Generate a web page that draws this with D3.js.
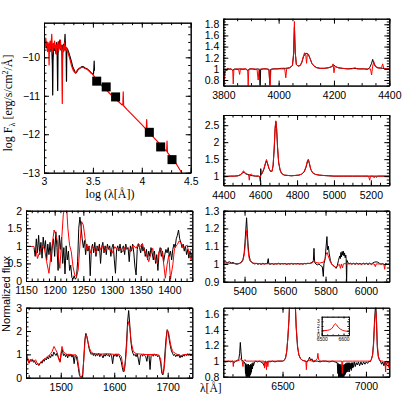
<!DOCTYPE html>
<html>
<head>
<meta charset="utf-8">
<script src="https://cdn.jsdelivr.net/npm/d3@7"></script>
<style>
  body { margin: 0; background: #fff; }
  svg { display: block; }
</style>
</head>
<body>
<div id="chart"></div>
<script>
// ---- data ----

// SED panel: log(lambda), log(F_lambda)
const sedBlack = [
  [3.000,-9.62],[3.008,-9.70],[3.015,-9.58],[3.022,-9.75],[3.030,-9.66],[3.036,-9.80],[3.042,-9.70],[3.050,-9.78],
  [3.056,-9.65],[3.062,-9.85],[3.068,-9.72],[3.074,-9.60],[3.080,-9.78],[3.086,-10.20],[3.089,-10.98],[3.092,-10.10],
  [3.098,-9.78],[3.104,-9.68],[3.110,-9.82],[3.116,-9.70],[3.122,-9.90],[3.128,-9.62],[3.134,-9.75],[3.140,-10.86],
  [3.143,-9.95],[3.150,-9.60],[3.156,-9.72],[3.162,-9.55],[3.168,-9.80],[3.174,-9.68],[3.180,-9.85],[3.186,-9.70],
  [3.192,-9.78],[3.198,-9.66],[3.204,-9.82],[3.210,-9.70],[3.215,-9.40],[3.220,-9.80],[3.226,-9.75],[3.230,-10.62],
  [3.233,-9.80],[3.240,-9.78],[3.248,-9.84],[3.256,-9.90],[3.265,-9.98],[3.275,-10.06],[3.285,-10.16],[3.295,-10.26],
  [3.305,-10.31],[3.315,-10.37],[3.325,-10.41],[3.335,-10.38],[3.345,-10.33],[3.360,-10.29],[3.375,-10.27],[3.390,-10.24],
  [3.405,-10.25],[3.420,-10.28],[3.435,-10.29],[3.450,-10.32],[3.465,-10.36],[3.480,-10.40],[3.495,-10.43],[3.505,-10.44],
  [3.510,-10.30],[3.513,-10.10],[3.516,-10.35]
];
const sedRed = [
  [3.000,-9.65],[3.006,-9.55],[3.012,-9.75],[3.018,-9.50],[3.024,-9.70],[3.030,-9.60],[3.036,-9.85],[3.042,-9.62],
  [3.048,-9.72],[3.052,-10.20],[3.056,-9.70],[3.062,-9.58],[3.068,-9.78],[3.074,-9.62],[3.079,-9.40],[3.084,-9.70],
  [3.090,-9.86],[3.096,-9.64],[3.102,-9.75],[3.108,-9.58],[3.114,-9.80],[3.120,-9.68],[3.126,-9.92],[3.132,-9.66],
  [3.138,-9.74],[3.144,-9.60],[3.150,-9.82],[3.156,-9.68],[3.162,-9.76],[3.168,-9.55],[3.174,-9.80],[3.180,-9.72],
  [3.184,-10.60],[3.187,-11.20],[3.190,-10.10],[3.196,-9.70],[3.202,-9.85],[3.208,-9.62],[3.214,-9.78],[3.220,-9.70],
  [3.226,-9.82],[3.232,-9.75],[3.240,-9.84],[3.250,-9.92],[3.260,-10.00],[3.270,-10.10],[3.280,-10.20],[3.290,-10.28],
  [3.300,-10.34],[3.310,-10.38],[3.320,-10.40],[3.330,-10.38],[3.345,-10.32],[3.360,-10.29],[3.380,-10.26],[3.400,-10.26],
  [3.420,-10.29],[3.440,-10.31],[3.460,-10.35],[3.480,-10.40],[3.500,-10.45],[3.520,-10.52],[3.540,-10.58],[3.560,-10.64],
  [3.580,-10.70],[3.600,-10.76],[3.640,-10.86],[3.680,-10.96],[3.720,-11.06],[3.760,-11.15],[3.800,-11.24],[3.806,-11.24],
  [3.810,-10.90],[3.814,-11.26],[3.850,-11.36],[3.900,-11.49],[3.950,-11.62],[4.000,-11.75],[4.040,-11.86],[4.046,-11.86],
  [4.050,-11.62],[4.054,-11.90],[4.080,-11.97],[4.100,-12.03],[4.104,-11.90],[4.108,-12.05],[4.150,-12.16],[4.200,-12.30],
  [4.250,-12.44],[4.254,-12.44],[4.258,-12.18],[4.262,-12.47],[4.300,-12.60],[4.350,-12.76],[4.400,-12.97],[4.430,-13.10]
];
const photometry = [
  [3.539,-10.62],[3.636,-10.77],[3.732,-11.03],[4.077,-11.95],[4.193,-12.33],[4.309,-12.66]
];

// 3800-4400 A
const r1Black = [
  [3800,0.96],[3804,0.90],[3808,1.00],[3812,0.97],[3816,1.01],[3822,0.99],[3828,1.00],[3834,0.97],[3840,1.00],
  [3850,0.99],[3860,1.00],[3870,0.99],[3880,1.00],[3888,0.97],[3895,1.00],[3905,1.00],[3915,0.99],[3925,1.00],
  [3931,0.99],[3933,0.62],[3935,0.99],[3945,1.00],[3955,1.00],[3965,0.99],[3968,0.72],[3971,0.99],[3980,1.00],
  [3995,1.00],[4010,1.01],[4025,1.01],[4040,1.02],[4050,1.06],[4054,1.25],[4057,1.75],[4060,1.30],[4064,1.08],
  [4070,1.05],[4078,1.06],[4084,1.12],[4090,1.22],[4096,1.27],[4102,1.28],[4108,1.25],[4114,1.18],[4120,1.10],
  [4128,1.05],[4138,1.02],[4150,1.01],[4165,1.01],[4180,1.02],[4192,1.04],[4199,1.07],[4206,1.04],[4215,1.02],
  [4230,1.01],[4250,1.00],[4270,1.01],[4290,1.00],[4310,1.00],[4322,0.99],[4330,1.03],[4336,1.10],[4340,1.17],
  [4344,1.10],[4350,1.04],[4360,1.02],[4375,1.01],[4390,1.00],[4400,1.00]
];
const r1Red = [
  [3800,0.85],[3803,0.75],[3806,0.95],[3810,1.00],[3815,0.98],[3820,1.00],[3828,1.00],[3834,0.98],[3836,0.73],
  [3838,0.98],[3845,1.00],[3855,1.00],[3859,0.90],[3862,1.00],[3872,1.00],[3882,1.00],[3888,0.98],[3890,0.69],
  [3892,0.98],[3900,1.00],[3912,1.00],[3922,0.99],[3926,0.80],[3929,0.99],[3940,1.00],[3955,1.00],[3965,0.99],
  [3969,0.67],[3972,0.99],[3985,1.00],[4000,1.00],[4012,1.00],[4022,1.00],[4026,0.84],[4029,1.00],[4040,1.02],
  [4050,1.06],[4054,1.28],[4057,1.85],[4060,1.30],[4064,1.08],[4070,1.05],[4078,1.06],[4084,1.12],[4090,1.24],
  [4094,1.29],[4098,1.25],[4101,1.10],[4104,1.28],[4108,1.26],[4114,1.18],[4120,1.10],[4128,1.05],[4138,1.02],
  [4150,1.01],[4165,1.01],[4180,1.02],[4192,1.04],[4197,1.09],[4200,0.93],[4204,1.05],[4215,1.02],[4230,1.01],
  [4250,1.00],[4265,1.00],[4276,1.02],[4285,1.00],[4310,1.00],[4325,1.00],[4332,1.00],[4336,0.89],[4340,1.05],
  [4344,1.13],[4348,1.07],[4355,1.02],[4365,1.01],[4372,1.02],[4376,1.09],[4380,1.01],[4390,1.00],[4400,1.00]
];

// 4400-5300 A
const r2Black = [
  [4400,1.00],[4420,0.99],[4440,1.00],[4460,1.00],[4480,1.01],[4495,1.04],[4505,1.10],[4512,1.12],[4520,1.07],
  [4530,1.05],[4540,1.04],[4550,1.02],[4560,1.01],[4575,1.00],[4590,1.00],[4598,0.98],[4601,0.84],[4603,1.22],
  [4606,1.05],[4612,1.10],[4620,1.20],[4628,1.36],[4634,1.45],[4640,1.36],[4648,1.22],[4656,1.14],[4664,1.14],
  [4670,1.30],[4676,1.80],[4681,2.40],[4685,2.60],[4689,2.40],[4694,1.85],[4700,1.40],[4708,1.18],[4716,1.08],
  [4730,1.03],[4750,1.02],[4770,1.01],[4790,1.02],[4810,1.03],[4825,1.06],[4838,1.12],[4848,1.25],[4856,1.42],
  [4861,1.48],[4866,1.38],[4874,1.20],[4884,1.10],[4900,1.05],[4920,1.03],[4940,1.02],[4970,1.01],[5000,1.00],
  [5050,1.00],[5100,1.00],[5150,1.00],[5200,1.00],[5250,1.00],[5300,1.00]
];
const r2Red = [
  [4400,1.00],[4430,1.00],[4460,1.00],[4480,1.01],[4495,1.05],[4505,1.12],[4510,1.16],[4516,1.10],[4525,1.08],
  [4532,1.06],[4538,1.00],[4541,0.88],[4544,1.04],[4552,1.06],[4560,1.02],[4575,1.00],[4595,1.00],[4600,0.97],
  [4604,1.02],[4612,1.10],[4620,1.22],[4628,1.38],[4634,1.49],[4640,1.38],[4648,1.22],[4656,1.14],[4664,1.14],
  [4670,1.32],[4676,1.85],[4681,2.45],[4685,2.63],[4689,2.42],[4694,1.88],[4700,1.42],[4708,1.18],[4716,1.08],
  [4730,1.03],[4750,1.02],[4770,1.01],[4790,1.02],[4810,1.03],[4825,1.06],[4838,1.13],[4848,1.27],[4856,1.45],
  [4861,1.50],[4866,1.40],[4874,1.21],[4884,1.10],[4900,1.05],[4920,1.03],[4940,1.02],[4970,1.01],[5000,1.00],
  [5050,1.00],[5100,1.00],[5150,1.00],[5185,1.00],[5190,0.95],[5194,0.88],[5198,1.00],[5210,1.00],[5218,0.95],
  [5222,1.00],[5232,0.96],[5236,1.00],[5260,1.00],[5300,1.00]
];

// 1150-1440 A
const uv1Black = [
  [1164,0.95],[1166,0.70],[1168,1.20],[1170,0.80],[1172,1.30],[1174,0.75],[1176,1.10],[1178,0.65],[1180,1.25],
  [1182,0.90],[1184,1.15],[1186,0.60],[1188,1.05],[1190,0.75],[1192,1.10],[1194,0.55],[1196,1.00],[1198,1.20],
  [1200,0.70],[1202,1.40],[1204,0.95],[1206,0.30],[1208,1.30],[1210,0.90],[1212,1.25],[1214,0.50],[1216,0.95],
  [1218,0.20],[1220,1.00],[1222,0.60],[1224,0.85],[1226,0.30],[1228,0.45],[1230,0.10],[1232,0.05],[1234,0.15],
  [1236,0.05],[1238,0.10],[1240,0.55],[1242,1.50],[1244,1.82],[1246,1.55],[1248,1.20],[1250,0.95],[1252,1.15],
  [1254,0.75],[1256,1.05],[1258,0.85],[1260,1.00],[1262,0.15],[1264,0.90],[1266,1.05],[1268,0.80],[1270,1.10],
  [1272,0.70],[1274,1.00],[1276,0.85],[1278,1.05],[1280,0.50],[1282,0.95],[1284,1.10],[1286,0.80],[1288,1.00],
  [1290,0.75],[1292,1.05],[1294,0.90],[1296,1.00],[1298,0.70],[1300,0.95],[1302,1.05],[1304,0.60],[1306,0.22],
  [1308,0.90],[1310,1.00],[1312,0.85],[1314,1.05],[1316,0.80],[1318,0.95],[1320,1.00],[1322,0.75],[1324,1.05],
  [1326,0.90],[1328,0.95],[1330,0.55],[1332,1.00],[1334,0.85],[1336,1.05],[1338,0.80],[1340,0.40],[1342,0.17],
  [1344,0.90],[1346,1.05],[1348,0.95],[1350,0.80],[1352,1.05],[1354,0.85],[1356,0.95],[1358,0.70],[1360,0.90],
  [1362,0.60],[1364,0.85],[1366,0.70],[1368,0.95],[1370,0.80],[1372,0.60],[1374,0.85],[1376,0.50],[1378,0.75],
  [1380,0.30],[1382,0.80],[1384,0.95],[1386,0.70],[1388,0.85],[1390,0.55],[1392,0.75],[1394,0.90],[1396,0.80],
  [1398,0.95],[1400,0.70],[1402,0.85],[1404,0.60],[1406,0.90],[1408,1.05],[1410,0.95],[1412,1.20],[1414,1.30],
  [1416,1.45],[1418,1.20],[1420,1.10],[1422,0.95],[1424,1.05],[1426,0.85],[1428,1.00],[1430,0.75],[1432,0.90],
  [1434,0.65],[1436,0.85],[1438,0.70],[1440,0.80]
];
const uv1Red = [
  [1150,0.98],[1164,0.98],[1167,0.93],[1170,0.64],[1174,0.83],[1178,0.98],[1182,0.93],[1186,0.55],[1190,0.22],
  [1194,0.83],[1199,1.45],[1202,1.31],[1205,1.12],[1207,0.64],[1209,0.36],[1212,1.12],[1215,1.88],[1217,2.07],
  [1221,2.07],[1223,1.50],[1226,1.02],[1229,0.83],[1232,0.41],[1235,0.17],[1238,0.12],[1241,0.31],[1244,1.02],
  [1247,1.69],[1250,1.59],[1253,1.21],[1256,0.88],[1259,0.98],[1262,0.79],[1265,0.98],[1269,0.93],[1272,0.79],
  [1276,0.98],[1279,0.88],[1283,1.02],[1286,0.83],[1291,0.98],[1295,0.93],[1300,0.79],[1305,0.98],[1309,0.88],
  [1314,0.93],[1319,0.83],[1323,0.98],[1328,0.93],[1332,0.83],[1337,1.02],[1342,0.93],[1346,1.07],[1350,0.98],
  [1353,1.07],[1357,0.83],[1360,0.74],[1364,0.55],[1367,0.74],[1371,0.93],[1374,0.64],[1379,0.50],[1382,0.83],
  [1386,0.93],[1389,0.64],[1393,0.08],[1396,0.46],[1399,0.74],[1402,0.06],[1406,0.46],[1409,0.93],[1414,1.04],
  [1417,1.14],[1421,1.07],[1424,0.93],[1428,0.98],[1431,1.02],[1435,0.74],[1438,0.60],[1442,1.02]
];

// 5300-6100 A
const r3Black = [
  [5295,1.010],[5305,1.012],[5315,1.008],[5325,1.012],[5335,1.006],[5345,1.008],[5352,1.002],[5360,0.998],
  [5368,1.000],[5376,1.004],[5384,1.010],[5392,1.025],[5398,1.060],[5402,1.120],[5406,1.190],[5410,1.260],
  [5414,1.170],[5418,1.100],[5422,1.050],[5428,1.020],[5435,1.010],[5442,1.004],[5450,1.000],[5458,1.003],
  [5466,0.998],[5474,1.002],[5482,0.997],[5490,1.004],[5498,0.999],[5506,1.003],[5512,1.000],[5517,1.030],
  [5520,1.000],[5528,0.998],[5536,1.003],[5544,0.997],[5552,1.002],[5560,0.999],[5568,1.004],[5576,0.998],
  [5584,1.002],[5592,1.000],[5600,1.003],[5608,0.997],[5616,1.002],[5624,0.999],[5632,1.003],[5640,0.998],
  [5648,1.002],[5656,1.000],[5664,1.003],[5672,0.999],[5680,1.002],[5688,0.998],[5696,1.003],[5704,1.000],
  [5712,1.004],[5720,1.002],[5728,1.006],[5736,1.010],[5740,1.020],[5743,1.088],[5746,1.010],[5752,1.000],
  [5760,0.995],[5768,1.000],[5776,0.990],[5784,0.985],[5789,0.930],[5792,1.000],[5798,1.030],[5803,1.100],
  [5807,1.154],[5810,1.080],[5814,1.100],[5818,1.060],[5824,1.020],[5830,1.000],[5838,0.990],[5846,0.985],
  [5852,0.975],[5858,0.990],[5864,1.020],[5870,1.045],[5873,1.030],[5876,1.065],[5879,1.040],[5882,1.070],
  [5885,1.050],[5888,1.072],[5891,1.045],[5894,1.062],[5897,1.035],[5900,1.050],[5902,1.030],[5904,0.880],
  [5906,1.020],[5910,1.010],[5916,1.000],[5922,1.005],[5930,0.998],[5938,1.004],[5946,0.997],[5954,1.005],
  [5962,0.998],[5970,1.004],[5978,0.996],[5986,1.005],[5994,0.998],[6002,1.004],[6010,0.996],[6018,1.005],
  [6026,0.997],[6034,1.006],[6042,1.010],[6050,1.012],[6058,1.010],[6066,1.004],[6074,0.998],[6082,1.002],
  [6090,0.995],[6098,1.003],[6106,0.997],[6115,1.000]
];
const r3Red = [
  [5295,1.005],[5320,1.004],[5350,1.002],[5375,1.003],[5385,1.008],[5392,1.020],[5398,1.050],[5402,1.090],
  [5406,1.150],[5410,1.190],[5414,1.130],[5418,1.075],[5422,1.035],[5428,1.015],[5440,1.005],[5460,1.003],
  [5490,1.000],[5520,1.002],[5550,1.000],[5580,1.002],[5610,1.000],[5640,1.002],[5670,1.000],[5700,1.002],
  [5730,1.004],[5740,1.012],[5745,1.018],[5750,1.008],[5770,1.005],[5790,1.010],[5798,1.030],[5803,1.055],
  [5808,1.065],[5812,1.050],[5818,1.030],[5824,1.010],[5834,0.995],[5844,0.985],[5852,0.980],[5860,0.990],
  [5868,0.998],[5874,0.975],[5878,1.000],[5884,0.978],[5888,1.000],[5896,1.002],[5910,1.000],[5940,1.002],
  [5970,1.000],[6000,1.002],[6040,1.000],[6046,0.985],[6050,1.000],[6070,1.000],[6088,1.000],[6092,0.970],
  [6096,1.000],[6115,1.000]
];

// 1435-1750 A
const uv2Black = [
  [1435,1.05],[1437,0.85],[1439,0.70],[1441,0.62],[1443,0.78],[1445,0.70],[1447,0.76],[1449,0.66],[1451,0.72],
  [1453,0.60],[1455,0.55],[1457,0.62],[1459,0.52],[1461,0.60],[1463,0.68],[1465,0.62],[1467,0.75],[1469,0.70],
  [1471,0.82],[1473,0.76],[1475,0.88],[1477,0.80],[1479,0.95],[1481,0.86],[1483,1.00],[1485,0.92],[1487,1.10],
  [1489,1.02],[1491,0.95],[1493,1.05],[1495,0.90],[1497,0.80],[1499,0.70],[1501,1.05],[1503,1.20],[1505,0.95],
  [1507,1.02],[1509,0.90],[1511,1.00],[1513,0.85],[1515,1.02],[1517,0.92],[1519,1.00],[1521,0.88],[1523,0.98],
  [1525,0.60],[1527,0.95],[1529,0.90],[1531,0.70],[1533,0.40],[1535,0.10],[1537,0.02],[1539,0.00],[1541,0.10],
  [1543,0.80],[1545,1.60],[1547,1.90],[1549,1.75],[1551,1.50],[1553,1.25],[1555,1.10],[1557,1.00],[1559,1.05],
  [1561,0.95],[1563,1.05],[1565,0.92],[1567,1.02],[1569,0.95],[1571,1.05],[1573,0.90],[1575,1.02],[1577,0.95],
  [1579,0.85],[1581,1.00],[1583,0.92],[1585,1.02],[1587,0.95],[1589,1.00],[1591,0.90],[1593,1.02],[1595,0.95],
  [1597,0.60],[1599,0.98],[1601,0.92],[1603,1.02],[1605,0.90],[1607,1.00],[1609,0.95],[1611,0.85],[1613,0.70],
  [1615,0.45],[1617,0.25],[1619,0.30],[1621,0.80],[1623,1.50],[1625,2.40],[1627,2.88],[1629,2.30],[1631,1.60],
  [1633,1.20],[1635,1.05],[1637,0.95],[1639,1.00],[1641,0.90],[1643,1.02],[1645,0.80],[1647,0.55],[1649,0.95],
  [1651,1.00],[1653,0.92],[1655,1.02],[1657,0.95],[1659,0.90],[1661,0.70],[1663,1.00],[1665,0.95],[1667,0.35],
  [1669,0.95],[1671,1.00],[1673,0.92],[1675,1.02],[1677,0.95],[1679,1.00],[1681,0.90],[1683,0.95],[1685,0.85],
  [1687,0.60],[1689,0.20],[1691,0.12],[1693,0.40],[1695,1.10],[1697,1.70],[1699,2.05],[1701,1.95],[1703,1.60],
  [1705,1.35],[1707,1.15],[1709,1.05],[1711,0.95],[1713,1.00],[1715,0.90],[1717,0.98],[1719,0.92],[1721,1.00],
  [1723,0.85],[1725,0.95],[1727,0.88],[1729,0.98],[1731,0.92],[1733,1.00],[1735,0.95],[1737,1.02],[1739,0.98],
  [1741,1.00],[1743,0.96],[1746,1.00]
];
const uv2Red = [
  [1435,1.08],[1437.5,0.91],[1440.6,0.63],[1443.7,0.74],[1446.8,0.80],[1450,0.70],[1453,0.77],[1456,0.60],
  [1459,0.56],[1462.4,0.66],[1465.5,0.74],[1468.7,0.80],[1471.8,0.84],[1475,0.91],[1478,0.94],[1481,1.03],
  [1484,1.13],[1487.4,1.34],[1490.5,1.20],[1493.6,1.06],[1496,0.80],[1498.6,0.66],[1500.5,1.06],[1502.3,1.34],
  [1504.8,1.13],[1508.6,1.03],[1513.5,0.99],[1518.5,1.00],[1523.5,0.97],[1528,0.99],[1531,0.89],[1533.5,0.49],
  [1536,0.09],[1538.5,0.03],[1541,0.13],[1543.5,0.91],[1546,1.77],[1548,1.84],[1550,1.63],[1553.5,1.27],
  [1557,1.09],[1562,1.03],[1574.6,1.01],[1587,1.03],[1599.6,1.00],[1609,1.01],[1613.3,0.91],[1615.8,0.56],
  [1618.3,0.27],[1620.8,0.63],[1623.3,1.34],[1625,2.20],[1627,2.41],[1629.5,2.06],[1632,1.49],[1635.7,1.13],
  [1640.7,1.03],[1649.5,1.01],[1662,0.99],[1674.4,1.00],[1683.8,0.97],[1687,0.77],[1689.4,0.27],[1692,0.17],
  [1694.4,0.63],[1697,1.49],[1699.3,2.06],[1701.8,1.91],[1705.6,1.41],[1709,1.13],[1715,1.03],[1724,0.94],
  [1730.5,0.99],[1740,1.01],[1747,1.00]
];

// 6150-7140 A
const r4Black = [
  [6145,1.00],[6160,0.99],[6175,1.00],[6190,0.99],[6200,1.00],[6210,0.98],[6220,1.00],[6230,1.01],[6238,1.03],
  [6243,1.10],[6247,1.24],[6251,1.12],[6255,1.02],[6262,1.00],[6270,0.99],[6276,0.96],[6278,0.84],[6280,0.97],
  [6282,0.80],[6284,0.95],[6286,0.78],[6288,0.96],[6290,0.80],[6292,0.93],[6294,0.78],[6296,0.96],[6298,0.80],
  [6300,0.92],[6302,0.79],[6304,0.95],[6306,0.82],[6308,0.96],[6310,0.84],[6312,0.95],[6314,0.86],[6317,0.97],
  [6320,0.90],[6323,0.98],[6326,0.94],[6332,0.99],[6340,1.00],[6350,0.99],[6360,1.00],[6370,0.99],[6380,0.98],
  [6393,0.93],[6396,1.00],[6405,0.97],[6412,1.00],[6425,0.99],[6440,1.00],[6455,0.99],[6470,1.00],[6485,1.00],
  [6500,1.00],[6510,1.01],[6518,1.04],[6525,1.12],[6532,1.30],[6539,1.55],[6545,1.90],[6552,2.30],[6560,2.60],
  [6568,2.30],[6575,1.80],[6582,1.42],[6590,1.18],[6598,1.08],[6608,1.03],[6620,1.01],[6635,1.00],[6648,0.99],
  [6656,1.02],[6662,1.05],[6668,1.01],[6676,1.03],[6684,0.99],[6695,1.00],[6710,1.00],[6725,0.99],[6740,1.00],
  [6760,1.00],[6780,0.99],[6800,1.00],[6815,0.99],[6828,0.98],[6832,0.84],[6834,0.97],[6836,0.79],[6838,0.95],
  [6840,0.78],[6842,0.96],[6844,0.78],[6846,0.94],[6848,0.78],[6850,0.96],[6852,0.79],[6854,0.93],[6856,0.78],
  [6858,0.95],[6860,0.78],[6862,0.92],[6864,0.79],[6866,0.95],[6868,0.80],[6870,0.96],[6872,0.82],[6874,0.95],
  [6876,0.83],[6878,0.97],[6880,0.85],[6882,0.96],[6884,0.86],[6886,0.98],[6888,0.88],[6890,0.97],[6892,0.86],
  [6894,0.98],[6896,0.89],[6898,0.97],[6900,0.86],[6903,0.98],[6906,0.90],[6909,0.97],[6912,0.88],[6915,0.98],
  [6918,0.91],[6921,0.98],[6925,0.92],[6930,0.99],[6936,0.93],[6942,0.98],[6948,0.95],[6955,0.99],[6962,0.94],
  [6970,0.99],[6978,0.95],[6986,0.99],[6994,0.96],[7002,0.99],[7010,0.97],[7018,1.00],[7025,0.99],[7032,1.02],
  [7040,1.08],[7046,1.25],[7051,1.50],[7056,1.67],[7060,1.70],[7064,1.45],[7068,1.18],[7074,1.06],[7080,1.02],
  [7088,0.99],[7094,0.96],[7100,0.99],[7108,0.94],[7114,0.99],[7122,0.95],[7130,0.99],[7140,0.97]
];
const r4Red = [
  [6145,1.00],[6170,1.00],[6195,1.00],[6202,1.00],[6205,0.93],[6208,1.00],[6225,1.00],[6240,1.01],[6250,1.03],
  [6258,1.00],[6263,0.93],[6266,1.00],[6275,1.02],[6280,1.00],[6300,1.00],[6320,1.00],[6340,1.00],[6370,1.00],
  [6388,1.00],[6392,0.91],[6395,1.00],[6400,1.00],[6404,0.89],[6408,1.00],[6412,0.93],[6416,1.00],[6440,1.00],
  [6470,1.00],[6500,1.00],[6510,1.01],[6518,1.04],[6525,1.12],[6532,1.30],[6539,1.55],[6545,1.95],[6552,2.40],
  [6560,2.65],[6568,2.35],[6575,1.85],[6582,1.45],[6590,1.20],[6598,1.08],[6608,1.03],[6620,1.01],[6640,1.00],
  [6643,0.89],[6646,1.00],[6660,1.01],[6680,1.00],[6700,1.01],[6708,1.03],[6712,1.10],[6716,1.02],[6730,1.00],
  [6760,1.00],[6800,1.00],[6830,1.00],[6855,1.00],[6858,0.84],[6861,1.00],[6880,1.00],[6920,1.00],[6960,1.00],
  [7000,1.00],[7025,1.00],[7032,1.02],[7040,1.08],[7046,1.22],[7051,1.45],[7056,1.60],[7060,1.63],[7064,1.50],
  [7068,1.22],[7074,1.07],[7080,1.02],[7090,1.00],[7100,1.00],[7115,0.97],[7118,0.86],[7121,1.00],[7132,0.99],
  [7135,0.92],[7140,1.00]
];
// H-alpha inset
const insetRed = [
  [6500,1.00],[6515,1.00],[6525,1.05],[6535,1.15],[6545,1.40],[6552,1.80],[6558,2.30],[6562,2.50],[6568,2.25],
  [6576,1.70],[6586,1.30],[6596,1.05],[6606,0.92],[6616,0.85],[6625,0.82]
];

// tick labels
const sedXTicks = [3, 3.5, 4, 4.5];
const sedYTicks = [-10, -11, -12, -13];
const r1XTicks = [3800, 4000, 4200, 4400];
const r1YTicks = [0.8, 1, 1.2, 1.4, 1.6, 1.8];
const r2XTicks = [4400, 4600, 4800, 5000, 5200];
const r2YTicks = [1, 1.5, 2, 2.5];
const uv1XTicks = [1150, 1200, 1250, 1300, 1350, 1400];
const uv1YTicks = [0, 0.5, 1, 1.5, 2];
const r3XTicks = [5400, 5600, 5800, 6000];
const r3YTicks = [0.9, 1, 1.1, 1.2, 1.3];
const uv2XTicks = [1500, 1600, 1700];
const uv2YTicks = [0, 1, 2, 3];
const r4XTicks = [6500, 7000];
const r4YTicks = [0.8, 1, 1.2, 1.4, 1.6];
const insetXTicks = [6500, 6600];
const insetYTicks = [0, 1, 2, 3];

// ---- drawing ----
const FRAME_WIDTH = 407;
const FRAME_HEIGHT = 407;
const NUM_FONT = '"Liberation Sans", Helvetica, Arial, sans-serif';
const LABEL_FONT = '"Liberation Serif", "Times New Roman", serif';

const FRAME = d3.select('#chart')
                .append('svg')
                    .attr('width', FRAME_WIDTH)
                    .attr('height', FRAME_HEIGHT);

const fmt = d3.format('~g');

function drawPanel(p) {
    const [x0, y0, x1, y1] = p.box;
    const X = d3.scaleLinear().domain(p.xDomain).range([x0, x1]);
    const Y = d3.scaleLinear().domain(p.yDomain).range([y1, y0]);
    const major = p.major || 5, minor = p.minor || 2.5;

    if (p.fill) {
        FRAME.append('rect').attr('x', x0).attr('y', y0)
            .attr('width', x1 - x0).attr('height', y1 - y0).attr('fill', '#fff');
    }

    FRAME.append('clipPath').attr('id', 'clip-' + p.id)
        .append('rect').attr('x', x0).attr('y', y0)
        .attr('width', x1 - x0).attr('height', y1 - y0);

    const plot = FRAME.append('g').attr('clip-path', 'url(#clip-' + p.id + ')');
    const line = d3.line().x(d => X(d[0])).y(d => Y(d[1]));
    p.series.forEach(s => {
        plot.append('path')
            .datum(s.data)
            .attr('d', line)
            .attr('fill', 'none')
            .attr('stroke', s.color)
            .attr('stroke-width', s.width || 1)
            .attr('stroke-linejoin', 'round');
    });
    if (p.squares) {
        plot.selectAll('.sq')
            .data(p.squares)
            .enter()
            .append('rect')
            .attr('x', d => X(d[0]) - 4.5)
            .attr('y', d => Y(d[1]) - 4.5)
            .attr('width', 9)
            .attr('height', 9)
            .attr('fill', '#000');
    }

    // minor tick positions along each axis
    const xMinor = d3.range(Math.ceil(p.xDomain[0] / p.xStep - 1e-9) * p.xStep, p.xDomain[1] + 1e-9, p.xStep);
    const yMinor = d3.range(Math.ceil(p.yDomain[0] / p.yStep - 1e-9) * p.yStep, p.yDomain[1] + 1e-9, p.yStep);

    const fs = p.fontSize || 10.5;
    const styleAxis = g => {
        g.attr('font-family', NUM_FONT).attr('font-size', fs);
        g.selectAll('line').attr('stroke-width', p.tickWidth || 1);
        g.select('.domain').attr('stroke-width', p.tickWidth || 1);
    };

    // bottom
    FRAME.append('g').attr('transform', 'translate(0,' + y1 + ')')
        .call(d3.axisBottom(X).tickValues(xMinor).tickSizeInner(-minor).tickSizeOuter(0).tickFormat(''))
        .call(styleAxis);
    FRAME.append('g').attr('transform', 'translate(0,' + y1 + ')')
        .call(d3.axisBottom(X).tickValues(p.xTicks).tickSizeInner(-major).tickSizeOuter(0)
            .tickPadding(p.xPad || 6).tickFormat(fmt))
        .call(styleAxis);
    // top
    FRAME.append('g').attr('transform', 'translate(0,' + y0 + ')')
        .call(d3.axisTop(X).tickValues(xMinor).tickSizeInner(-minor).tickSizeOuter(0).tickFormat(''))
        .call(styleAxis);
    FRAME.append('g').attr('transform', 'translate(0,' + y0 + ')')
        .call(d3.axisTop(X).tickValues(p.xTicks).tickSizeInner(-major).tickSizeOuter(0).tickFormat(''))
        .call(styleAxis);
    // left
    FRAME.append('g').attr('transform', 'translate(' + x0 + ',0)')
        .call(d3.axisLeft(Y).tickValues(yMinor).tickSizeInner(-minor).tickSizeOuter(0).tickFormat(''))
        .call(styleAxis);
    FRAME.append('g').attr('transform', 'translate(' + x0 + ',0)')
        .call(d3.axisLeft(Y).tickValues(p.yTicks).tickSizeInner(-major).tickSizeOuter(0)
            .tickPadding(p.yPad || 4).tickFormat(fmt))
        .call(styleAxis);
    // right
    FRAME.append('g').attr('transform', 'translate(' + x1 + ',0)')
        .call(d3.axisRight(Y).tickValues(yMinor).tickSizeInner(-minor).tickSizeOuter(0).tickFormat(''))
        .call(styleAxis);
    FRAME.append('g').attr('transform', 'translate(' + x1 + ',0)')
        .call(d3.axisRight(Y).tickValues(p.yTicks).tickSizeInner(-major).tickSizeOuter(0).tickFormat(''))
        .call(styleAxis);
}

const RED = '#ff0000';

// SED
drawPanel({id: 'sed', box: [44, 22.7, 190.7, 172.7], xDomain: [3, 4.5], yDomain: [-13, -9.1],
    xTicks: sedXTicks, yTicks: sedYTicks, xStep: 0.1, yStep: 0.2, xPad: 5,
    series: [{data: sedBlack, color: '#000', width: 1.2}, {data: sedRed, color: RED, width: 1.2}],
    squares: photometry});

// right column, optical
drawPanel({id: 'r1', box: [223.3, 18.7, 389.3, 85.6], xDomain: [3800, 4400], yDomain: [0.7, 1.9],
    xTicks: r1XTicks, yTicks: r1YTicks, xStep: 50, yStep: 0.05,
    series: [{data: r1Black, color: '#000'}, {data: r1Red, color: RED}]});
drawPanel({id: 'r2', box: [223.3, 115, 389.3, 185.3], xDomain: [4400, 5300], yDomain: [0.73, 2.8],
    xTicks: r2XTicks, yTicks: r2YTicks, xStep: 50, yStep: 0.1,
    series: [{data: r2Black, color: '#000'}, {data: r2Red, color: RED}]});
drawPanel({id: 'r3', box: [223.3, 210.7, 389.3, 281.7], xDomain: [5295, 6115], yDomain: [0.9, 1.3],
    xTicks: r3XTicks, yTicks: r3YTicks, xStep: 50, yStep: 0.02,
    series: [{data: r3Black, color: '#000'}, {data: r3Red, color: RED}]});
drawPanel({id: 'r4', box: [223.3, 307.7, 389.3, 376.7], xDomain: [6145, 7140], yDomain: [0.8, 1.686],
    xTicks: r4XTicks, yTicks: r4YTicks, xStep: 100, yStep: 0.05,
    series: [{data: r4Black, color: '#000'}, {data: r4Red, color: RED}]});

// left column, UV
drawPanel({id: 'uv1', box: [26, 210.7, 192.3, 281], xDomain: [1150, 1440], yDomain: [0, 2],
    xTicks: uv1XTicks, yTicks: uv1YTicks, xStep: 10, yStep: 0.1,
    series: [{data: uv1Black, color: '#000'}, {data: uv1Red, color: RED}]});
drawPanel({id: 'uv2', box: [26, 307.7, 192.3, 377.7], xDomain: [1435, 1746], yDomain: [0, 3],
    xTicks: uv2XTicks, yTicks: uv2YTicks, xStep: 20, yStep: 0.2,
    series: [{data: uv2Black, color: '#000'}, {data: uv2Red, color: RED}]});

// H-alpha inset
drawPanel({id: 'inset', box: [321.7, 316.7, 349, 335.2], xDomain: [6500, 6625], yDomain: [0, 4],
    xTicks: insetXTicks, yTicks: insetYTicks, xStep: 25, yStep: 0.5, fill: true,
    major: 2, minor: 1, fontSize: 5, xPad: 2.5, yPad: 2, tickWidth: 0.7,
    series: [{data: insetRed, color: RED}]});

// axis titles
const yTitle = FRAME.append('text')
    .attr('transform', 'translate(12,103) rotate(-90)')
    .attr('text-anchor', 'middle')
    .attr('font-family', LABEL_FONT)
    .attr('font-size', 12);
yTitle.append('tspan').text('log F');
yTitle.append('tspan').attr('font-size', 8).attr('dy', 3).text('λ');
yTitle.append('tspan').attr('dy', -3).text(' [erg/s/cm');
yTitle.append('tspan').attr('font-size', 8).attr('dy', -4).text('2');
yTitle.append('tspan').attr('dy', 4).text('/Å]');

FRAME.append('text')
    .attr('x', 110)
    .attr('y', 198)
    .attr('text-anchor', 'middle')
    .attr('font-family', LABEL_FONT)
    .attr('font-size', 12)
    .text('log (λ[Å])');

FRAME.append('text')
    .attr('transform', 'translate(10,294) rotate(-90)')
    .attr('text-anchor', 'middle')
    .attr('font-family', NUM_FONT)
    .attr('font-size', 11)
    .text('Normalized flux');

FRAME.append('text')
    .attr('x', 200)
    .attr('y', 392)
    .attr('font-family', LABEL_FONT)
    .attr('font-size', 11.5)
    .text('λ[Å]');
</script>
</body>
</html>
